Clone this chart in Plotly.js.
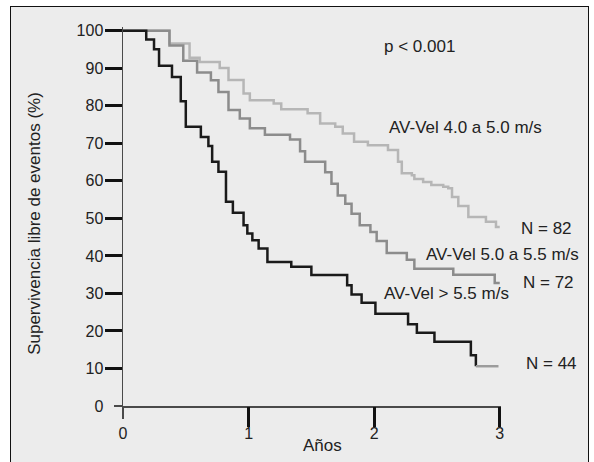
<!DOCTYPE html>
<html>
<head>
<meta charset="utf-8">
<script src="https://cdn.plot.ly/plotly-3.0.1.min.js"></script>
<style>
html,body{margin:0;padding:0;background:#ffffff;width:594px;height:462px;overflow:hidden;}
#frame{position:absolute;left:10px;top:6px;width:579px;height:480px;background:#ececec;border:1.5px solid #111;box-sizing:border-box;}
#chart{position:absolute;left:0;top:0;width:594px;height:462px;}
</style>
</head>
<body>
<div id="frame"></div>
<div id="chart"></div>
<script>
// Years (x) and event-free survival % (y) for each group (step curves)
const tLow = [0, 0.37, 0.53, 0.61, 0.77, 0.84, 0.96, 1.01, 1.20, 1.26, 1.47, 1.57, 1.69, 1.75, 1.84, 1.95, 2.11, 2.19, 2.22, 2.30, 2.32, 2.39, 2.455, 2.55, 2.59, 2.62, 2.67, 2.75, 2.89, 2.97, 3.0];
const sLow = [100, 96.6, 92.8, 91.7, 90.1, 86.9, 83.3, 81.5, 80.6, 79.1, 78.0, 75.3, 74.4, 72.6, 70.4, 69.5, 68.2, 65.1, 62.0, 61.5, 60.5, 59.7, 58.9, 58.4, 58.0, 55.7, 53.3, 50.4, 49.1, 47.7, 47.7];

const tMid = [0, 0.37, 0.48, 0.59, 0.70, 0.76, 0.84, 0.93, 1.01, 1.13, 1.33, 1.41, 1.45, 1.61, 1.66, 1.71, 1.77, 1.82, 1.885, 1.97, 2.02, 2.10, 2.26, 2.32, 2.63, 2.96, 3.0];
const sMid = [100, 96.1, 92.0, 88.9, 86.8, 83.7, 78.9, 76.6, 74.0, 72.3, 71.0, 67.9, 65.1, 62.3, 59.2, 56.1, 53.9, 51.2, 48.2, 46.4, 44.0, 40.8, 39.0, 36.6, 35.0, 32.8, 32.8];

const tHigh = [0, 0.185, 0.247, 0.287, 0.39, 0.46, 0.50, 0.62, 0.68, 0.71, 0.76, 0.82, 0.875, 0.96, 0.99, 1.03, 1.08, 1.15, 1.34, 1.50, 1.785, 1.82, 1.90, 2.01, 2.27, 2.34, 2.48, 2.77, 2.81];
const sHigh = [100, 97.7, 95.1, 90.7, 87.7, 81.2, 74.4, 71.7, 69.3, 65.1, 62.4, 54.4, 51.5, 48.2, 46.0, 44.2, 42.0, 38.4, 37.1, 34.9, 32.2, 29.7, 27.5, 24.6, 21.8, 19.5, 17.1, 13.5, 10.6];
const tHighTail = [2.81, 2.99];

// Axis ticks
const xTicks = [0, 1, 2, 3];
const yTicks = [0, 10, 20, 30, 40, 50, 60, 70, 80, 90, 100];

// Text labels: [text, x (years), y (%)]
const labelTexts = ["p < 0.001", "AV-Vel 4.0 a 5.0 m/s", "N = 82", "AV-Vel 5.0 a 5.5 m/s", "N = 72", "AV-Vel > 5.5 m/s", "N = 44"];
const labelX = [2.06, 2.105, 3.155, 2.40, 3.17, 2.06, 3.195];
const labelY = [95.7, 74.1, 47.4, 40.4, 32.9, 30.0, 11.3];

const FONT = "Liberation Sans, Arial, Helvetica, sans-serif";
const TXT = "#222222";
const xMax = 3.01, yMax = 101;

const traces = [
  {x: tLow, y: sLow, mode: "lines", line: {shape: "hv", color: "#b6b6b6", width: 2.5}, hoverinfo: "skip"},
  {x: tMid, y: sMid, mode: "lines", line: {shape: "hv", color: "#8c8c8c", width: 2.5}, hoverinfo: "skip"},
  {x: tHigh, y: sHigh, mode: "lines", line: {shape: "hv", color: "#1a1a1a", width: 2.5}, hoverinfo: "skip"},
  {x: tHighTail, y: [sHigh[sHigh.length - 1], sHigh[sHigh.length - 1]], mode: "lines", line: {color: "#9c9c9c", width: 2.5}, hoverinfo: "skip"},
  // dummy traces for overlay tick axes
  {x: [], y: [], xaxis: "x2", yaxis: "y", hoverinfo: "skip"},
  {x: [], y: [], xaxis: "x", yaxis: "y2", hoverinfo: "skip"},
  {x: [], y: [], xaxis: "x3", yaxis: "y", hoverinfo: "skip"},
  {x: [], y: [], xaxis: "x", yaxis: "y3", hoverinfo: "skip"}
];

const annotations = labelTexts.map((t, i) => ({
  text: t, xref: "paper", yref: "y", x: labelX[i] / xMax, y: labelY[i],
  xanchor: "left", yanchor: "middle", showarrow: false,
  font: {family: FONT, size: 17, color: TXT}
}));
annotations.push({text: "Años", xref: "paper", yref: "paper", x: 1.588 / xMax, y: -0.104,
  xanchor: "center", yanchor: "middle", showarrow: false, font: {family: FONT, size: 17, color: TXT}});
annotations.push({text: "Supervivencia libre de eventos (%)", xref: "paper", yref: "paper", x: -0.233, y: 0.483,
  xanchor: "center", yanchor: "middle", textangle: -90, showarrow: false, font: {family: FONT, size: 17, color: TXT}});

const layout = {
  width: 594, height: 462,
  margin: {l: 123, r: 93, t: 27, b: 56, pad: 0},
  paper_bgcolor: "rgba(0,0,0,0)", plot_bgcolor: "rgba(0,0,0,0)",
  showlegend: false,
  font: {family: FONT, color: TXT},
  xaxis: {range: [0, xMax], tickvals: xTicks, ticktext: xTicks.map(String), ticks: "outside", ticklen: 12,
    tickcolor: "rgba(0,0,0,0)", showline: true, linecolor: "#4a4a4a", linewidth: 1.5, showgrid: false, zeroline: false,
    tickfont: {family: FONT, size: 16, color: TXT}, fixedrange: true},
  yaxis: {range: [0, yMax], tickvals: yTicks, ticktext: yTicks.map(String), ticks: "outside", ticklen: 15,
    tickcolor: "rgba(0,0,0,0)", showline: true, linecolor: "#4a4a4a", linewidth: 1.5, showgrid: false, zeroline: false,
    tickfont: {family: FONT, size: 16, color: TXT}, fixedrange: true},
  xaxis2: {overlaying: "x", anchor: "y", range: [0, xMax], tickvals: xTicks.slice(1), ticks: "outside", ticklen: 20,
    tickwidth: 3, tickcolor: "#111", showticklabels: false, showline: false, showgrid: false, zeroline: false},
  yaxis2: {overlaying: "y", anchor: "x", range: [0, yMax], tickvals: yTicks.slice(1), ticks: "outside", ticklen: 17,
    tickwidth: 3, tickcolor: "#111", showticklabels: false, showline: false, showgrid: false, zeroline: false},
  xaxis3: {overlaying: "x", anchor: "y", range: [0, xMax], tickvals: [xTicks[0]], ticks: "outside", ticklen: 12,
    tickwidth: 1.5, tickcolor: "#4a4a4a", showticklabels: false, showline: false, showgrid: false, zeroline: false},
  yaxis3: {overlaying: "y", anchor: "x", range: [0, yMax], tickvals: [yTicks[0]], ticks: "outside", ticklen: 8,
    tickwidth: 1.5, tickcolor: "#4a4a4a", showticklabels: false, showline: false, showgrid: false, zeroline: false},
  annotations: annotations
};

Plotly.newPlot("chart", traces, layout, {displayModeBar: false, staticPlot: true});
</script>
</body>
</html>
